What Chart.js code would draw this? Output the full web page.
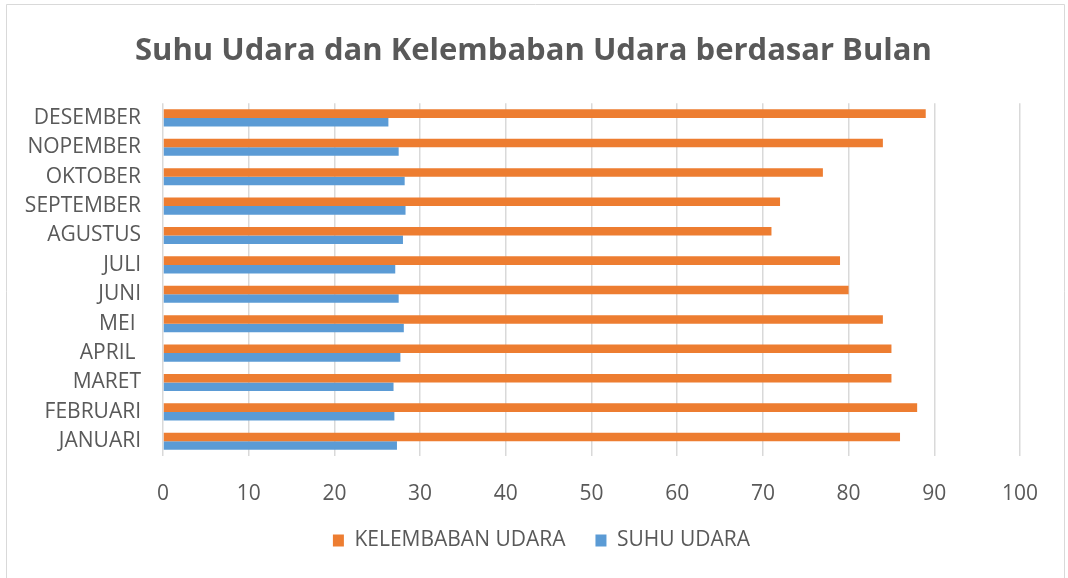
<!DOCTYPE html>
<html>
<head>
<meta charset="utf-8">
<script src="https://cdn.jsdelivr.net/npm/chart.js@4"></script>
<style>
  html, body { margin: 0; padding: 0; background: #fff; }
  #wrap { width: 1068px; height: 578px; position: relative; }
</style>
</head>
<body>
<div id="wrap"><canvas id="myChart"></canvas></div>
<script>
// data
const months = ["JANUARI", "FEBRUARI", "MARET", "APRIL ", "MEI ", "JUNI", "JULI",
  "AGUSTUS", "SEPTEMBER", "OKTOBER", "NOPEMBER", "DESEMBER"];
const kelembaban = [86, 88, 85, 85, 84, 80, 79, 71, 72, 77, 84, 89];
const suhu = [27.3, 27.0, 26.9, 27.7, 28.1, 27.5, 27.1, 28.0, 28.3, 28.2, 27.5, 26.3];
const xTicks = [0, 10, 20, 30, 40, 50, 60, 70, 80, 90, 100];

const textColor = "#595959";
const fontName = "'Open Sans', sans-serif";
const padLeft = 20;
const padRight = 5;

// frame around the chart, like the office chart box
const frame = {
  id: "frame",
  beforeDraw(chart) {
    const c = chart.ctx;
    c.save();
    c.fillStyle = "#fff";
    c.fillRect(0, 0, chart.width, chart.height);
    c.strokeStyle = "#d9d9d9";
    c.lineWidth = 1;
    c.beginPath();
    c.moveTo(6.5, chart.height);
    c.lineTo(6.5, 4.5);
    c.lineTo(1064.5, 4.5);
    c.lineTo(1064.5, chart.height);
    c.stroke();
    c.restore();
  }
};

const ctx = document.getElementById("myChart");
const myChart = new Chart(ctx, {
  type: "bar",
  data: {
    labels: months,
    datasets: [
      {
        label: "KELEMBABAN UDARA",
        data: kelembaban,
        backgroundColor: "#ED7D31",
        barPercentage: 1,
        categoryPercentage: 0.58
      },
      {
        label: "SUHU UDARA",
        data: suhu,
        backgroundColor: "#5B9BD5",
        barPercentage: 1,
        categoryPercentage: 0.58
      }
    ]
  },
  options: {
    indexAxis: "y",
    responsive: true,
    maintainAspectRatio: false,
    animation: false,
    layout: { padding: { left: padLeft, right: padRight, top: 0, bottom: 17 } },
    scales: {
      x: {
        min: 0,
        max: 100,
        afterBuildTicks: (s) => { s.ticks = xTicks.map((v) => ({ value: v })); },
        afterFit: (s) => { s.height = 44; },
        grid: { color: "#d9d9d9", lineWidth: 1.5, drawTicks: false },
        border: { display: false },
        ticks: { color: textColor, font: { family: fontName, size: 21 }, padding: 25 }
      },
      y: {
        reverse: true,
        afterFit: (s) => { s.width = 163 - padLeft; },
        grid: { display: false, drawTicks: false },
        border: { display: false },
        ticks: { color: textColor, font: { family: fontName, size: 21 }, padding: 22, autoSkip: false }
      },
      // empty space on the right of the plot
      yRight: {
        axis: "y",
        type: "linear",
        position: "right",
        afterFit: (s) => { s.width = 1068 - padRight - 1020; },
        grid: { display: false, drawTicks: false },
        border: { display: false },
        ticks: { display: false }
      }
    },
    plugins: {
      title: {
        display: true,
        text: "Suhu Udara dan Kelembaban Udara berdasar Bulan  ",
        color: textColor,
        font: { family: fontName, size: 31, weight: "bold" },
        padding: { top: 33, bottom: 33 }
      },
      legend: {
        position: "bottom",
        labels: {
          color: textColor,
          font: { family: fontName, size: 21 },
          boxWidth: 11,
          boxHeight: 12,
          padding: 30
        }
      },
      tooltip: { enabled: false }
    }
  },
  plugins: [frame]
});
</script>
</body>
</html>
